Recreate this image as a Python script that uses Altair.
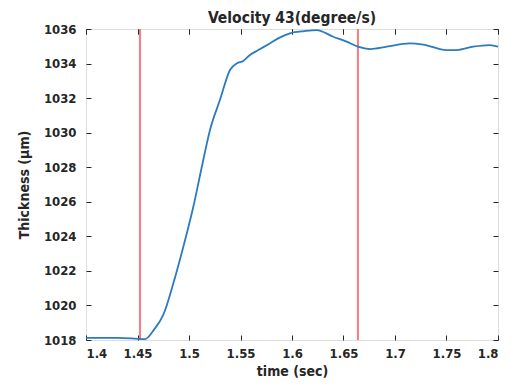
import altair as alt
import pandas as pd

time_s = [1.400, 1.430, 1.450, 1.4573, 1.466, 1.475, 1.4848, 1.4945, 1.5042, 1.512, 1.5204, 1.5301,
          1.5398, 1.5463, 1.5527, 1.5592, 1.5673, 1.578, 1.588, 1.598, 1.612, 1.624, 1.640, 1.653,
          1.664, 1.676, 1.692, 1.7146, 1.7275, 1.750, 1.760, 1.776, 1.792, 1.800]
thickness = [1018.12, 1018.12, 1018.07, 1018.05, 1018.6, 1019.45, 1021.28, 1023.40, 1025.71, 1027.9,
             1030.16, 1031.9, 1033.63, 1034.01, 1034.15, 1034.5, 1034.78, 1035.15, 1035.5, 1035.75,
             1035.88, 1035.94, 1035.55, 1035.27, 1034.98, 1034.84, 1034.98, 1035.17, 1035.1, 1034.78,
             1034.78, 1034.98, 1035.07, 1034.98]
markers = [1.4524, 1.664]

df = pd.DataFrame({"t": time_s, "th": thickness})
dm = pd.DataFrame({"t": markers})

FONT = "DejaVu Sans Condensed"
TXT = "#262626"

xs = alt.Scale(domain=[1.4, 1.8], nice=False, zero=False)
ys = alt.Scale(domain=[1018, 1036], nice=False, zero=False)

xticks = [1.4, 1.45, 1.5, 1.55, 1.6, 1.65, 1.7, 1.75, 1.8]
yticks = list(range(1018, 1037, 2))

def ax(orient, title, labels=True, pad=8, tpad=6):
    kw = dict(orient=orient, values=xticks if orient in ("bottom", "top") else yticks,
              offset=-5, tickSize=5, domain=False, grid=False, labels=labels,
              tickColor=TXT, labelColor=TXT, labelFont=FONT, labelFontSize=13,
              labelFontWeight="bold", labelPadding=pad, titleFont=FONT,
              titleFontSize=14, titleFontWeight="bold", titleColor=TXT, titlePadding=tpad,
              labelExpr="format(datum.value, '~g')")
    kw["title"] = title
    return alt.Axis(**kw)

line = alt.Chart(df).mark_line(color="#2b7bc0", strokeWidth=1.8, interpolate="monotone").encode(
    x=alt.X("t:Q", scale=xs, axis=ax("bottom", "time (sec)", pad=7, tpad=4)),
    y=alt.Y("th:Q", scale=ys, axis=ax("left", "Thickness (μm)", pad=10, tpad=12)),
)

rules = alt.Chart(dm).mark_rule(color="#f47c7c", strokeWidth=2).encode(
    x=alt.X("t:Q", scale=xs, axis=ax("top", None, labels=False)),
    y=alt.value(0),
    y2=alt.value(311),
)

mirror = alt.Chart(df).mark_point(opacity=0).encode(
    x=alt.X("t:Q", scale=xs, axis=ax("top", None, labels=False)),
    y=alt.Y("th:Q", scale=ys, axis=ax("right", None, labels=False)),
)

chart = alt.layer(mirror, rules, line).resolve_axis(x="independent", y="independent").properties(
    width=412, height=311,
    title=alt.TitleParams("Velocity 43(degree/s)", font=FONT, fontSize=15.5, fontWeight="bold",
                          color=TXT, offset=-3),
    autosize=alt.AutoSizeParams(type="none"),
    padding={"left": 78, "top": 21, "right": 8, "bottom": 50},
).configure_view(stroke=TXT, strokeWidth=1.2).configure(background="white")

chart.save("out.html", embed_options={"renderer": "svg", "actions": False})
